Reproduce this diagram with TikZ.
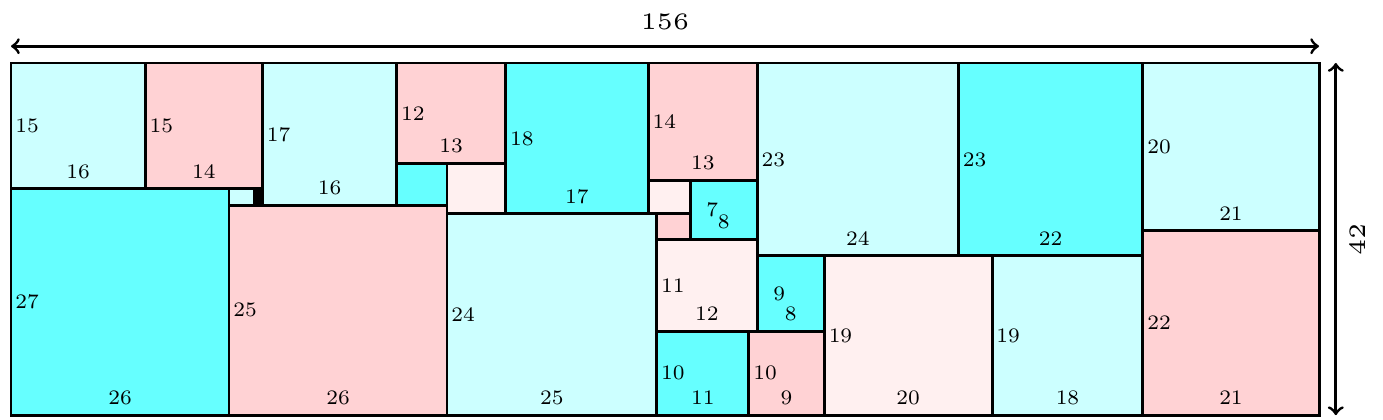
\documentclass[tikz,border=0pt]{standalone}
\usepackage{tikz}
\definecolor{lcyan}{RGB}{204,255,255}
\definecolor{dcyan}{RGB}{102,255,255}
\definecolor{lpink}{RGB}{255,210,212}
\definecolor{vpink}{RGB}{255,240,240}
\tikzstyle{hlab}=[anchor=west, font=\scriptsize, inner xsep=1pt]
\tikzstyle{wlab}=[anchor=south, font=\scriptsize, inner ysep=3pt]
\tikzstyle{dimlab}=[font=\tiny]

\begin{document}
\begin{tikzpicture}[x=0.1cm, y=-0.1cm, line width=1pt]
\useasboundingbox (-1.312,-7.513) rectangle (163.63,42.576);
% Tiles
    \filldraw[fill=lcyan] (0,0) rectangle (16,15);
    \filldraw[fill=lpink] (16,0) rectangle (30,15);
    \filldraw[fill=lcyan] (30,0) rectangle (46,17);
    \filldraw[fill=lpink] (46,0) rectangle (59,12);
    \filldraw[fill=dcyan] (59,0) rectangle (76,18);
    \filldraw[fill=lpink] (76,0) rectangle (89,14);
    \filldraw[fill=lcyan] (89,0) rectangle (113,23);
    \filldraw[fill=dcyan] (113,0) rectangle (135,23);
    \filldraw[fill=lcyan] (135,0) rectangle (156,20);
    \filldraw[fill=dcyan] (0,15) rectangle (26,42);
    \filldraw[fill=lcyan] (26,15) rectangle (29,17);
    \filldraw[fill=black] (29,15) rectangle (30,17);
    \filldraw[fill=lpink] (26,17) rectangle (52,42);
    \filldraw[fill=dcyan] (46,12) rectangle (52,17);
    \filldraw[fill=vpink] (52,12) rectangle (59,18);
    \filldraw[fill=lcyan] (52,18) rectangle (77,42);
    \filldraw[fill=vpink] (76,14) rectangle (81,18);
    \filldraw[fill=lpink] (77,18) rectangle (81,21);
    \filldraw[fill=dcyan] (81,14) rectangle (89,21);
    \filldraw[fill=vpink] (77,21) rectangle (89,32);
    \filldraw[fill=dcyan] (89,23) rectangle (97,32);
    \filldraw[fill=dcyan] (77,32) rectangle (88,42);
    \filldraw[fill=lpink] (88,32) rectangle (97,42);
    \filldraw[fill=vpink] (97,23) rectangle (117,42);
    \filldraw[fill=lcyan] (117,23) rectangle (135,42);
    \filldraw[fill=lpink] (135,20) rectangle (156,42);
% Heights
    \node[hlab] (h1) at (0,7.5) {15};
    \node[hlab] (h2) at (16,7.5) {15};
    \node[hlab] (h3) at (30,8.5) {17};
    \node[hlab] (h4) at (46,6) {12};
    \node[hlab] (h5) at (59,9) {18};
    \node[hlab] (h6) at (76,7) {14};
    \node[hlab] (h7) at (89,11.5) {23};
    \node[hlab] (h8) at (113,11.5) {23};
    \node[hlab] (h9) at (135,10) {20};
    \node[hlab] (h10) at (0,28.5) {27};
    \node[hlab] (h13) at (26,29.5) {25};
    \node[hlab] (h16) at (52,30) {24};
    \node[hlab] (h19) at (81,17.5) {\phantom{0}7};
    \node[hlab] (h20) at (77,26.5) {11};
    \node[hlab] (h21) at (89,27.5) {\phantom{0}9};
    \node[hlab] (h22) at (77,37) {10};
    \node[hlab] (h23) at (88,37) {10};
    \node[hlab] (h24) at (97,32.5) {19};
    \node[hlab] (h25) at (117,32.5) {19};
    \node[hlab] (h26) at (135,31) {22};
% Widths
    \node[wlab] (w1) at (8,15) {16};
    \node[wlab] (w2) at (23,15) {14};
    \node[wlab] (w3) at (38,17) {16};
    \node[wlab] (w4) at (52.5,12) {13};
    \node[wlab] (w5) at (67.5,18) {17};
    \node[wlab] (w6) at (82.5,14) {13};
    \node[wlab] (w7) at (101,23) {24};
    \node[wlab] (w8) at (124,23) {22};
    \node[wlab] (w9) at (145.5,20) {21};
    \node[wlab] (w10) at (13,42) {26};
    \node[wlab] (w13) at (39,42) {26};
    \node[wlab] (w16) at (64.5,42) {25};
    \node[wlab] (w19) at (85,21) {8};
    \node[wlab] (w20) at (83,32) {12};
    \node[wlab] (w21) at (93,32) {8};
    \node[wlab] (w22) at (82.5,42) {11};
    \node[wlab] (w23) at (92.5,42) {9};
    \node[wlab] (w24) at (107,42) {20};
    \node[wlab] (w25) at (126,42) {18};
    \node[wlab] (w26) at (145.5,42) {21};
% Dimensions
    \coordinate (wl) at (0,-2);
    \coordinate (wr) at (156,-2);
    \coordinate (ht) at (158,0);
    \coordinate (hb) at (158,42);
    \draw[<->] (wl) -- (wr);
    \draw[<->] (ht) -- (hb);
    \node[dimlab] (wdim) at (78,-4.9) {\scalebox{1.6}{156}};
    \node[dimlab, rotate=90] (hdim) at (160.6,21) {\scalebox{1.6}{42}};
\end{tikzpicture}
\end{document}
